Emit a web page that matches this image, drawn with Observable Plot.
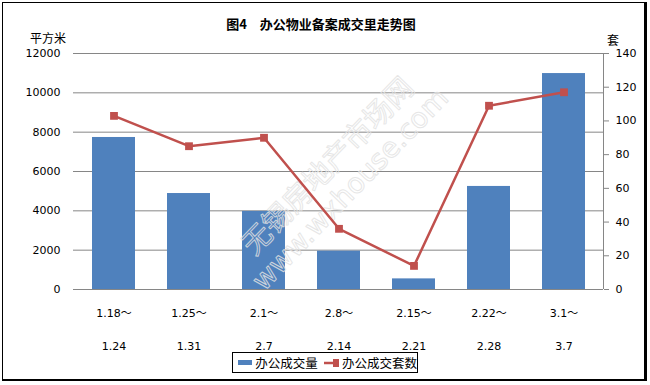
<!DOCTYPE html>
<html><head><meta charset="utf-8">
<script src="https://cdn.jsdelivr.net/npm/d3@7"></script>
<script src="https://cdn.jsdelivr.net/npm/@observablehq/plot@0.6"></script>
<style>
body{margin:0;background:#fff;}
#wrap{position:relative;width:650px;height:385px;overflow:hidden;font-family:"DejaVu Sans","Noto Sans CJK SC",sans-serif;}
#wrap svg{position:absolute;left:0;top:0;}
.abs{position:absolute;white-space:nowrap;color:#000;}
#border{position:absolute;left:2px;top:2px;width:641px;height:376px;border:1px solid #000;border-right-width:3px;border-bottom-width:2px;pointer-events:none;}
#title{left:0;width:642px;top:14px;text-align:center;font:bold 13px "Noto Sans CJK SC";}
#ul{left:30px;top:29px;font:12px "Noto Sans CJK SC";}
#ur{left:607px;top:31px;font:12px "Noto Sans CJK SC";}
#legend{left:232px;top:352px;width:184px;height:19px;border:1px solid #000;font:12.5px "Noto Sans CJK SC";display:flex;align-items:center;}
.sw{display:inline-block;}
</style></head>
<body><div id="wrap"></div>
<script>
const categories = ["1.18～1.24","1.25～1.31","2.1～2.7","2.8～2.14","2.15～2.21","2.22～2.28","3.1～3.7"];
const labelTop = ["1.18～","1.25～","2.1～","2.8～","2.15～","2.22～","3.1～"];
const labelBottom = ["1.24","1.31","2.7","2.14","2.21","2.28","3.7"];
const area = [7730, 4880, 3970, 1950, 540, 5240, 10980];
const units = [103, 85, 90, 36, 14, 109, 117];
const leftTicks = [0,2000,4000,6000,8000,10000,12000];
const rightTicks = [0,20,40,60,80,100,120,140];
const seriesNames = ["办公成交量","办公成交套数"];

const k = 12000/140;
const rows = categories.map((c,i)=>({c, area: area[i], units: units[i], y2: units[i]*k}));
const topOf = Object.fromEntries(categories.map((c,i)=>[c,labelTop[i]]));
const botOf = Object.fromEntries(categories.map((c,i)=>[c,labelBottom[i]]));
const blue = "#4F81BD", red = "#C0504D", grid = "#868686";

const chart = Plot.plot({
  width: 650, height: 385,
  marginTop: 53, marginBottom: 96, marginLeft: 73, marginRight: 47,
  style: {fontFamily: '"DejaVu Sans","Noto Sans CJK SC",sans-serif', fontSize: "11px", color: "#000", background: "transparent"},
  x: {domain: categories, paddingInner: 0.43, paddingOuter: 0.215},
  y: {domain: [0,12000]},
  marks: [
    Plot.gridY(leftTicks, {stroke: grid, strokeOpacity: 1, strokeWidth: 1}),
    Plot.barY(rows, {x: "c", y: "area", fill: blue}),
    // watermark
    Plot.text(["无锡房地产市场网"], {frameAnchor: "middle", dx: -10, dy: -5, rotate: -46, fontSize: 29, fill: "none", stroke: "#e2e2e2", strokeOpacity: 0.85, strokeWidth: 1, fontFamily: "Noto Sans CJK SC"}),
    Plot.text(["www.wxhouse.com"], {frameAnchor: "middle", dx: 12, dy: 18, rotate: -46, fontSize: 28, fill: "none", stroke: "#e2e2e2", strokeOpacity: 0.85, strokeWidth: 1, fontFamily: "DejaVu Sans"}),
    Plot.line(rows, {x: "c", y: "y2", stroke: red, strokeWidth: 2.5}),
    Plot.dot(rows, {x: "c", y: "y2", symbol: "square", r: 4.4, fill: red, stroke: null}),
    Plot.axisY(leftTicks, {anchor: "left", tickSize: 0, tickPadding: 13, label: null, tickFormat: d => String(d)}),
    Plot.axisY(rightTicks.map(t=>t*k), {anchor: "right", tickSize: 5, tickPadding: 7, stroke: grid, label: null, tickFormat: d => String(Math.round(d/k))}),
    Plot.ruleY([0], {stroke: grid, strokeWidth: 1}),
    (index, scales, values, dim) => {
      const x = dim.width - dim.marginRight;
      const l = document.createElementNS("http://www.w3.org/2000/svg","line");
      l.setAttribute("x1", x+0.5); l.setAttribute("x2", x+0.5);
      l.setAttribute("y1", dim.marginTop); l.setAttribute("y2", dim.height - dim.marginBottom);
      l.setAttribute("stroke", grid);
      return l;
    },
    Plot.axisX({anchor: "bottom", tickSize: 0, tickPadding: 20, label: null, tickFormat: d => topOf[d]}),
    Plot.axisX({anchor: "bottom", tickSize: 0, tickPadding: 53, label: null, tickFormat: d => botOf[d]})
  ]
});
const wrap = document.getElementById("wrap");
wrap.appendChild(chart);
wrap.insertAdjacentHTML("beforeend", `
<div class="abs" id="title">图4　办公物业备案成交里走势图</div>
<div class="abs" id="ul">平方米</div>
<div class="abs" id="ur">套</div>
<div class="abs" id="legend">
 <span class="sw" style="margin-left:5px;width:24px;height:5px;background:${blue}"></span>
 <span style="margin-left:3px">${seriesNames[0]}</span>
 <svg width="26" height="10" style="position:static;margin-left:6px"><line x1="0" x2="26" y1="5" y2="5" stroke="${red}" stroke-width="2.5"/><rect x="9" y="1" width="8" height="8" fill="${red}"/></svg>
 <span style="margin-left:3px">${seriesNames[1]}</span>
</div>
<div id="border"></div>`);
</script></body></html>
